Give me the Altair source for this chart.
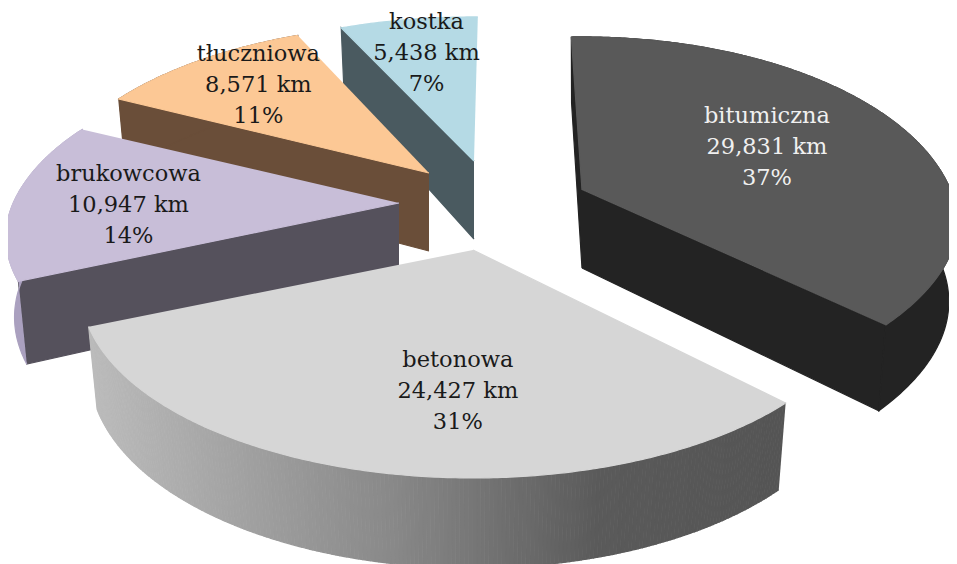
import math
import altair as alt
import pandas as pd

names = ["bitumiczna", "betonowa", "brukowcowa", "tłuczniowa", "kostka"]
km = [29831, 24427, 10947, 8571, 5438]
pct = [37, 31, 14, 11, 7]
km_text = ["29,831 km", "24,427 km", "10,947 km", "8,571 km", "5,438 km"]
top_colors = ["#595959", "#d6d6d6", "#c8bed8", "#fcc895", "#b5dae5"]
cut_colors = ["#232323", None, "#55515c", "#6a4e39", "#4a5a60"]
rim_colors = ["#232323", None, "#aaa0bf", "#6a4e39", "skip"]
text_colors = ["#f0f0f0", "#1a1a1a", "#1a1a1a", "#1a1a1a", "#1a1a1a"]

# layout of the 3D projection
apex = [(582, 190), (473, 250), (399, 203), (429, 173), (474, 161)]
rotate = [-2.0, 0.5, 0.0, 0.5, 0.2]
sweep = [0.97, 1.0, 1.0, 1.0, 1.02]
scale_a = [0.97, 1.01, 1.015, 1.0, 1.0]
scale_k = [1.02, 1.0, 1.0, 0.99, 0.96]
front_trim = [0.0013, 0.0, 0.0008, 0.0, 0.0]
label_r = [0.581, 0.672, 0.70, 0.741, 0.725]
label_a = [65.1, 182.9, 269.1, 317.6, 348.6]
end_cut_visible = [True, False, False, False, False]
A, K, P = 380, 181, 0.206
draw_order = [4, 3, 2, 0, 1]
grey_x = [90, 250, 400, 500, 600, 780]
grey_v = [187, 160, 135, 112, 90, 85]


def project(i, u, v, drop=False):
    s = 1 + P * v
    x = A * scale_a[i] * u / s
    dy = K * scale_k[i] * v / s
    if dy < 0:
        x -= math.copysign(front_trim[i] * dy * dy, x)
    y = apex[i][1] - dy
    if drop:
        x *= 0.978
        y += 78 - 12 * v
    return apex[i][0] + x, y


total = sum(km)
starts, a = [], 0.0
for value in km:
    starts.append(a)
    a += 360 * value / total

rows, pid = [], 0


def add_poly(points, color):
    global pid
    for n, (x, y) in enumerate(points):
        rows.append({"x": x, "y": y, "pid": f"p{pid:04d}", "n": n, "c": color})
    pid += 1


def grey(x):
    x = max(grey_x[0], min(grey_x[-1], x))
    for j in range(len(grey_x) - 1):
        if x <= grey_x[j + 1]:
            t = (x - grey_x[j]) / (grey_x[j + 1] - grey_x[j])
            g = int(round(grey_v[j] + (grey_v[j + 1] - grey_v[j]) * t))
            return f"#{g:02x}{g:02x}{g:02x}"


for i in draw_order:
    s0 = starts[i] + rotate[i]
    s1 = s0 + sweep[i] * 360 * km[i] / total
    steps = max(12, int((s1 - s0) / 0.5))
    rim = [(s0 + (s1 - s0) * k / steps) for k in range(steps + 1)]
    uv = [(math.sin(math.radians(t)), math.cos(math.radians(t))) for t in rim]
    centre = (0.0, 0.0)
    ends = [uv[0]] + ([uv[-1]] if end_cut_visible[i] else [])
    if cut_colors[i] is not None:
        for end in ends:
            add_poly([project(i, *centre), project(i, *end), project(i, *end, True), project(i, *centre, True)], cut_colors[i])
    if rim_colors[i] is None:
        for p, q in zip(uv[:-1], uv[1:]):
            quad = [project(i, *p), project(i, *q), project(i, *q, True), project(i, *p, True)]
            add_poly(quad, grey((quad[0][0] + quad[1][0]) / 2))
    elif rim_colors[i] != "skip":
        add_poly([project(i, *p) for p in uv] + [project(i, *p, True) for p in reversed(uv)], rim_colors[i])
    add_poly([project(i, *p) for p in [centre] + uv], top_colors[i])

poly = pd.DataFrame(rows)

x_scale = alt.Scale(domain=[8, 949], range=[0, 941], nice=False, zero=False)
y_scale = alt.Scale(domain=[8, 564], range=[0, 556], nice=False, zero=False)

shapes = alt.Chart(poly).mark_line(interpolate="linear", strokeWidth=1.2).encode(
    x=alt.X("x:Q", scale=x_scale, axis=None),
    y=alt.Y("y:Q", scale=y_scale, axis=None),
    detail="pid:N",
    order="n:Q",
    fill=alt.Fill("c:N", scale=None),
    stroke=alt.Stroke("c:N", scale=None),
)

lab = []
for i in range(5):
    t = math.radians(label_a[i])
    x, y = project(i, label_r[i] * math.sin(t), label_r[i] * math.cos(t))
    for line, txt in enumerate([names[i], km_text[i], f"{pct[i]}%"]):
        lab.append({"x": x, "y": y + (line - 1) * 31, "t": txt, "c": text_colors[i]})
labels = alt.Chart(pd.DataFrame(lab)).mark_text(font="DejaVu Serif", fontSize=22.5).encode(
    x=alt.X("x:Q", scale=x_scale, axis=None),
    y=alt.Y("y:Q", scale=y_scale, axis=None),
    text="t:N",
    color=alt.Color("c:N", scale=None),
)

chart = (shapes + labels).properties(
    width=941, height=556, padding=0, background="white",
    autosize=alt.AutoSizeParams(type="none"),
).configure_view(stroke=None)
chart.save("out.html", embed_options={"renderer": "svg", "actions": False})
